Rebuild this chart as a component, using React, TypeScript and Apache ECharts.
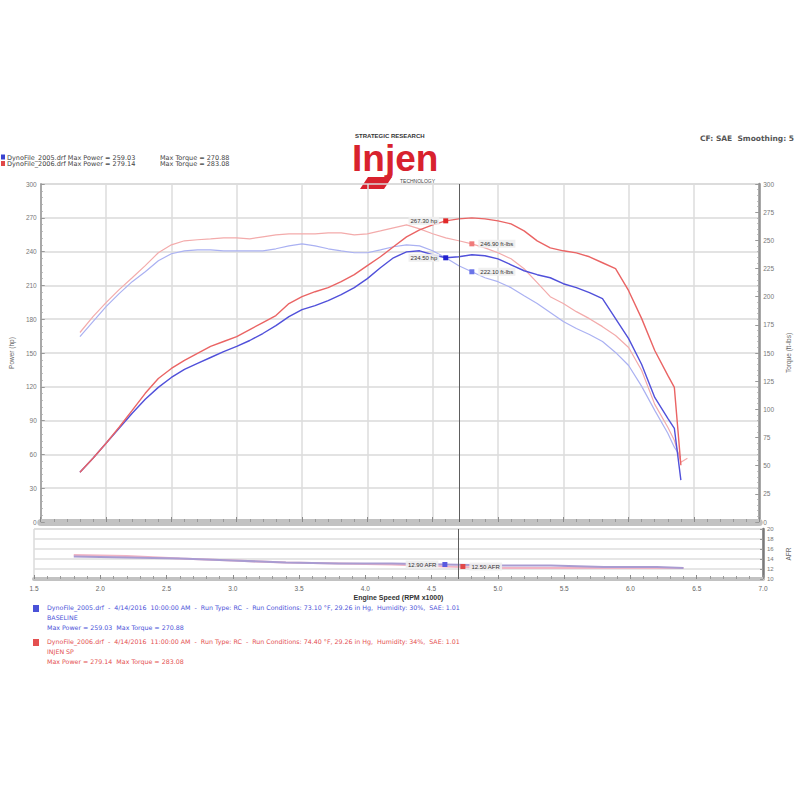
import React, { useEffect, useRef } from 'react';
import * as echarts from 'echarts';

// Engine speed (RPM x1000) for the upper pane
const rpm = [1.8, 1.9, 2.0, 2.1, 2.2, 2.3, 2.4, 2.5, 2.6, 2.7, 2.8, 2.9, 3.0, 3.1, 3.2, 3.3, 3.4, 3.5, 3.6, 3.7, 3.8, 3.9, 4.0, 4.1, 4.2, 4.3, 4.4, 4.5, 4.6, 4.7, 4.8, 4.9, 5.0, 5.1, 5.2, 5.3, 5.4, 5.5, 5.6, 5.7, 5.8, 5.9, 6.0, 6.1, 6.2, 6.3, 6.35, 6.4, 6.45];

// Run 2005 (blue) and run 2006 (red): power (hp) and torque (ft-lbs)
const bluePower = [44.2, 56.6, 69.9, 83.2, 96.5, 108.9, 119.5, 128.3, 135.4, 140.7, 146.0, 151.3, 155.8, 161.1, 167.3, 174.3, 182.3, 188.5, 192.0, 196.5, 201.8, 208.0, 216.0, 225.7, 234.5, 239.8, 240.7, 237.2, 234.5, 235.4, 237.2, 236.3, 233.6, 228.3, 223.0, 219.5, 216.8, 211.5, 208.0, 203.6, 198.2, 180.5, 162.8, 139.8, 110.6, 92.0, 83.2, 37.2, null];
const redPower = [44.2, 56.6, 69.9, 84.1, 99.1, 114.2, 127.4, 136.3, 143.4, 149.6, 155.8, 160.2, 164.6, 170.8, 177.0, 183.2, 193.9, 200.1, 204.4, 208.0, 213.3, 219.5, 227.5, 235.4, 244.3, 253.1, 259.3, 263.7, 267.3, 269.0, 269.9, 269.0, 267.3, 264.6, 258.4, 249.5, 243.3, 240.7, 238.9, 235.4, 230.1, 224.8, 205.3, 180.5, 152.2, 130.1, 119.5, 50.4, null];
const blueTorque = [164.6, 177.9, 191.2, 202.7, 213.3, 222.1, 231.9, 238.1, 240.7, 241.6, 241.6, 240.7, 240.7, 240.7, 240.7, 242.5, 245.1, 246.9, 245.1, 242.5, 240.7, 239.0, 239.0, 241.6, 244.3, 246.0, 245.1, 240.7, 234.5, 227.5, 222.1, 216.8, 213.3, 208.0, 200.9, 193.9, 185.9, 177.9, 171.7, 166.4, 160.2, 150.5, 138.9, 120.4, 99.1, 78.8, 66.4, 57.5, null];
const redTorque = [168.2, 182.3, 194.7, 206.2, 216.8, 227.5, 239.0, 246.0, 249.6, 250.5, 251.3, 252.2, 252.2, 251.3, 253.1, 254.9, 255.8, 255.8, 255.8, 256.7, 256.7, 254.9, 255.8, 258.4, 261.1, 263.7, 260.2, 255.8, 252.2, 249.6, 246.9, 243.3, 239.0, 233.6, 224.8, 212.4, 200.0, 193.9, 186.7, 180.5, 173.4, 165.5, 154.9, 134.5, 104.4, 84.1, 72.6, 53.1, 56.6];

// Lower pane (air/fuel ratio)
const afrRpm = [1.8, 2.2, 2.6, 3.0, 3.4, 3.8, 4.2, 4.6, 5.0, 5.4, 5.8, 6.2, 6.4];
const blueAfr = [14.5, 14.3, 14.1, 13.7, 13.3, 13.1, 13.1, 12.9, 12.7, 12.7, 12.4, 12.4, 12.2];
const redAfr = [14.8, 14.6, 14.1, 13.7, 13.3, 13.1, 12.9, 12.5, 12.2, 12.2, 12.2, 12.2, 12.2];

// Axis ticks
const xTicks = { min: 1.5, max: 7.0, step: 0.5 };
const powerTicks = { min: 0, max: 300, step: 30 };
const torqueTicks = { min: 0, max: 300, step: 25 };
const afrTicks = { min: 10, max: 20, step: 2 };

// Cursor position and read-out indices
const cursorRpm = 4.7;
const powerReadIdx = 28; // 4.6k
const torqueReadIdx = 30; // 4.8k
const afrReadIdx = 7; // 4.6k

const headerRuns = [
  { color: '#3a44d0', name: 'DynoFile_2005.drf', maxPower: '259.03', maxTorque: '270.88' },
  { color: '#e04848', name: 'DynoFile_2006.drf', maxPower: '279.14', maxTorque: '283.08' },
];
const footerRuns = [
  {
    color: '#4a52d8',
    line1: 'DynoFile_2005.drf  -  4/14/2016  10:00:00 AM  -  Run Type: RC  -  Run Conditions: 73.10 °F, 29.26 in Hg,  Humidity: 30%,  SAE: 1.01',
    line2: 'BASELINE',
    line3: 'Max Power = 259.03  Max Torque = 270.88',
  },
  {
    color: '#e45050',
    line1: 'DynoFile_2006.drf  -  4/14/2016  11:00:00 AM  -  Run Type: RC  -  Run Conditions: 74.40 °F, 29.26 in Hg,  Humidity: 34%,  SAE: 1.01',
    line2: 'INJEN SP',
    line3: 'Max Power = 279.14  Max Torque = 283.08',
  },
];

const FONT = '"Liberation Sans", Arial, sans-serif';
const WIDE = '"DejaVu Sans", Verdana, sans-serif';

const pairs = (xs: number[], ys: (number | null)[]) =>
  xs.map((x, i) => [x, ys[i]]).filter((p) => p[1] !== null);

export default function App() {
  const ref = useRef<HTMLDivElement>(null);

  useEffect(() => {
    if (!ref.current) return;
    const chart = echarts.init(ref.current, null, { renderer: 'svg' });

    const readLabel = (pos: string, unit: string) => ({
      show: true,
      position: pos,
      distance: 4,
      fontSize: 6,
      fontFamily: FONT,
      color: '#333',
      backgroundColor: 'rgba(238,238,238,0.9)',
      padding: [1, 2],
      formatter: (p: any) => Number(p.value).toFixed(2) + unit,
    });

    const cursorLine = {
      silent: true,
      symbol: 'none',
      label: { show: false },
      lineStyle: { color: '#5e5e5e', width: 1, type: 'solid' },
      data: [{ xAxis: cursorRpm }],
    };

    const lineSeries = (
      name: string,
      xs: number[],
      ys: (number | null)[],
      color: string,
      width: number,
      xi: number,
      yi: number,
      z: number,
      extra: any = {}
    ) => ({
      name,
      type: 'line',
      xAxisIndex: xi,
      yAxisIndex: yi,
      data: pairs(xs, ys),
      showSymbol: false,
      symbol: 'none',
      z,
      lineStyle: { color, width },
      itemStyle: { color },
      ...extra,
    });

    const xBase = (gridIndex: number) => ({
      type: 'value',
      gridIndex,
      min: xTicks.min,
      max: xTicks.max,
      interval: xTicks.step,
    });

    const option: any = {
      animation: false,
      backgroundColor: '#ffffff',
      textStyle: { fontFamily: FONT },
      grid: [
        { left: 34, right: 33, top: 184, height: 338, show: true, borderColor: '#c4c4c4', borderWidth: 1 },
        { left: 34, right: 33, top: 529, height: 50, show: true, borderColor: '#c8c8c8', borderWidth: 1 },
      ],
      xAxis: [
        {
          ...xBase(0),
          position: 'bottom',
          offset: 3.5,
          axisLabel: { show: false },
          axisLine: { show: true, lineStyle: { color: '#c2c2c2', width: 7 } },
          axisTick: { show: true, inside: true, length: 5, lineStyle: { color: '#8a8a8a' } },
          minorTick: { show: true, splitNumber: 5, length: 3, lineStyle: { color: '#9a9a9a' } },
          splitLine: { show: true, lineStyle: { color: '#dcdcdc', width: 1.5 } },
        },
        {
          ...xBase(1),
          position: 'bottom',
          name: 'Engine Speed (RPM x1000)',
          nameLocation: 'middle',
          nameGap: 15,
          nameTextStyle: { fontSize: 7, fontWeight: 'bold', color: '#333', fontFamily: FONT },
          axisLabel: { fontSize: 6.5, color: '#666', margin: 6, formatter: (v: number) => v.toFixed(1) },
          axisLine: { show: true, lineStyle: { color: '#c2c2c2', width: 4 } },
          axisTick: { show: true, inside: true, length: 4, lineStyle: { color: '#8a8a8a' } },
          minorTick: { show: true, splitNumber: 5, length: 3, lineStyle: { color: '#9a9a9a' } },
          splitLine: { show: false },
        },
      ],
      yAxis: [
        {
          type: 'value',
          gridIndex: 0,
          position: 'left',
          min: powerTicks.min,
          max: powerTicks.max,
          interval: powerTicks.step,
          name: 'Power (hp)',
          nameLocation: 'middle',
          nameGap: 22,
          nameTextStyle: { fontSize: 6.5, color: '#666', fontFamily: FONT },
          axisLabel: { fontSize: 6.5, color: '#777', margin: 4 },
          axisLine: { show: true, lineStyle: { color: '#a8a8a8', width: 2 } },
          axisTick: { show: true, inside: true, length: 4, lineStyle: { color: '#999' } },
          minorTick: { show: true, splitNumber: 5, length: 2, lineStyle: { color: '#aaa' } },
          splitLine: { show: true, lineStyle: { color: '#dadada', width: 1.5 } },
        },
        {
          type: 'value',
          gridIndex: 0,
          position: 'right',
          min: torqueTicks.min,
          max: torqueTicks.max,
          interval: torqueTicks.step,
          name: 'Torque (ft-lbs)',
          nameLocation: 'middle',
          nameGap: 22,
          nameTextStyle: { fontSize: 6.5, color: '#666', fontFamily: FONT },
          axisLabel: { fontSize: 6.5, color: '#777', margin: 4 },
          axisLine: { show: true, lineStyle: { color: '#939393', width: 2.5 } },
          axisTick: { show: true, inside: true, length: 4, lineStyle: { color: '#999' } },
          minorTick: { show: true, splitNumber: 5, length: 2, lineStyle: { color: '#aaa' } },
          splitLine: { show: false },
        },
        {
          type: 'value',
          gridIndex: 1,
          position: 'right',
          min: afrTicks.min,
          max: afrTicks.max,
          interval: afrTicks.step,
          name: 'AFR',
          nameLocation: 'middle',
          nameGap: 22,
          nameTextStyle: { fontSize: 6.5, color: '#666', fontFamily: FONT },
          axisLabel: { fontSize: 6, color: '#777', margin: 4 },
          axisLine: { show: true, lineStyle: { color: '#7a7a7a', width: 2.5 } },
          axisTick: { show: true, inside: true, length: 3, lineStyle: { color: '#999' } },
          splitLine: { show: true, lineStyle: { color: '#dedede', width: 1.5 } },
        },
      ],
      series: [
        lineSeries('2005 Torque', rpm, blueTorque, '#aab1f2', 1.2, 0, 1, 2, {
          markPoint: {
            symbol: 'rect',
            symbolSize: 5,
            itemStyle: { color: '#6a74e8' },
            label: readLabel('right', ' ft-lbs'),
            data: [{ coord: [rpm[torqueReadIdx], blueTorque[torqueReadIdx]], value: blueTorque[torqueReadIdx] }],
          },
          markLine: cursorLine,
        }),
        lineSeries('2006 Torque', rpm, redTorque, '#f3abab', 1.2, 0, 1, 2, {
          markPoint: {
            symbol: 'rect',
            symbolSize: 5,
            itemStyle: { color: '#f07a7a' },
            label: readLabel('right', ' ft-lbs'),
            data: [{ coord: [rpm[torqueReadIdx], redTorque[torqueReadIdx]], value: redTorque[torqueReadIdx] }],
          },
        }),
        lineSeries('2005 Power', rpm, bluePower, '#5050da', 1.4, 0, 0, 3, {
          markPoint: {
            symbol: 'rect',
            symbolSize: 5,
            itemStyle: { color: '#2020d0' },
            label: readLabel('left', ' hp'),
            data: [{ coord: [rpm[powerReadIdx], bluePower[powerReadIdx]], value: bluePower[powerReadIdx] }],
          },
        }),
        lineSeries('2006 Power', rpm, redPower, '#ea6464', 1.4, 0, 0, 3, {
          markPoint: {
            symbol: 'rect',
            symbolSize: 5,
            itemStyle: { color: '#e02828' },
            label: readLabel('left', ' hp'),
            data: [{ coord: [rpm[powerReadIdx], redPower[powerReadIdx]], value: redPower[powerReadIdx] }],
          },
        }),
        lineSeries('2005 AFR', afrRpm, blueAfr, '#a99cd2', 2, 1, 2, 3, {
          markPoint: {
            symbol: 'rect',
            symbolSize: 5,
            itemStyle: { color: '#5a5ae0' },
            label: readLabel('left', ' AFR'),
            data: [{ coord: [afrRpm[afrReadIdx], blueAfr[afrReadIdx]], value: blueAfr[afrReadIdx] }],
          },
          markLine: cursorLine,
        }),
        lineSeries('2006 AFR', afrRpm, redAfr, '#f1b4c4', 2.2, 1, 2, 2, {
          markPoint: {
            symbol: 'rect',
            symbolSize: 5,
            symbolOffset: [18, 0],
            itemStyle: { color: '#e04848' },
            label: readLabel('right', ' AFR'),
            data: [{ coord: [afrRpm[afrReadIdx], redAfr[afrReadIdx]], value: redAfr[afrReadIdx] }],
          },
        }),
      ],
      graphic: [
        // header legend
        ...headerRuns.flatMap((r, i) => [
          { type: 'rect', left: 1, top: 154.5 + i * 6.5, shape: { width: 4, height: 5 }, style: { fill: r.color } },
          {
            type: 'text',
            left: 7,
            top: 154 + i * 6.5,
            style: { text: `${r.name} Max Power = ${r.maxPower}`, fontSize: 6.5, lineHeight: 6.5, fill: '#444', fontFamily: WIDE },
          },
          {
            type: 'text',
            left: 160,
            top: 154 + i * 6.5,
            style: { text: `Max Torque = ${r.maxTorque}`, fontSize: 6.5, lineHeight: 6.5, fill: '#444', fontFamily: WIDE },
          },
        ]),
        // logo
        {
          type: 'text',
          left: 355,
          top: 132,
          style: { text: 'STRATEGIC RESEARCH', fontSize: 6, lineHeight: 7, fontWeight: 'bold', fill: '#333', fontFamily: FONT },
        },
        {
          type: 'text',
          left: 352,
          top: 140,
          style: { text: 'Injen', fontSize: 37, lineHeight: 37, fontWeight: 'bold', fill: '#d8222e', fontFamily: FONT },
        },
        {
          type: 'polygon',
          shape: { points: [[368, 177], [392, 177], [384, 189], [360, 189]] },
          style: { fill: '#d8222e' },
        },
        {
          type: 'text',
          left: 400,
          top: 178,
          style: { text: 'TECHNOLOGY', fontSize: 5, lineHeight: 5, fill: '#444', fontFamily: FONT },
        },
        // top-right info
        {
          type: 'text',
          right: 6,
          top: 134,
          style: { text: 'CF: SAE  Smoothing: 5', fontSize: 7.5, fontWeight: 'bold', fill: '#555', fontFamily: WIDE },
        },
        // footer legend
        ...footerRuns.flatMap((r, i) => [
          { type: 'rect', left: 33, top: 605 + i * 34, shape: { width: 6, height: 7 }, style: { fill: r.color } },
          { type: 'text', left: 47, top: 604.5 + i * 34, style: { text: r.line1, fontSize: 6.3, fill: r.color, fontFamily: WIDE } },
          { type: 'text', left: 47, top: 614.5 + i * 34, style: { text: r.line2, fontSize: 6.3, fill: r.color, fontFamily: WIDE } },
          { type: 'text', left: 47, top: 624.5 + i * 34, style: { text: r.line3, fontSize: 6.3, fill: r.color, fontFamily: WIDE } },
        ]),
      ],
    };

    chart.setOption(option);
    return () => chart.dispose();
  }, []);

  return (
    <div
      ref={ref}
      style={{ position: 'fixed', left: 0, top: 0, width: 800, height: 800, background: '#fff' }}
    />
  );
}
